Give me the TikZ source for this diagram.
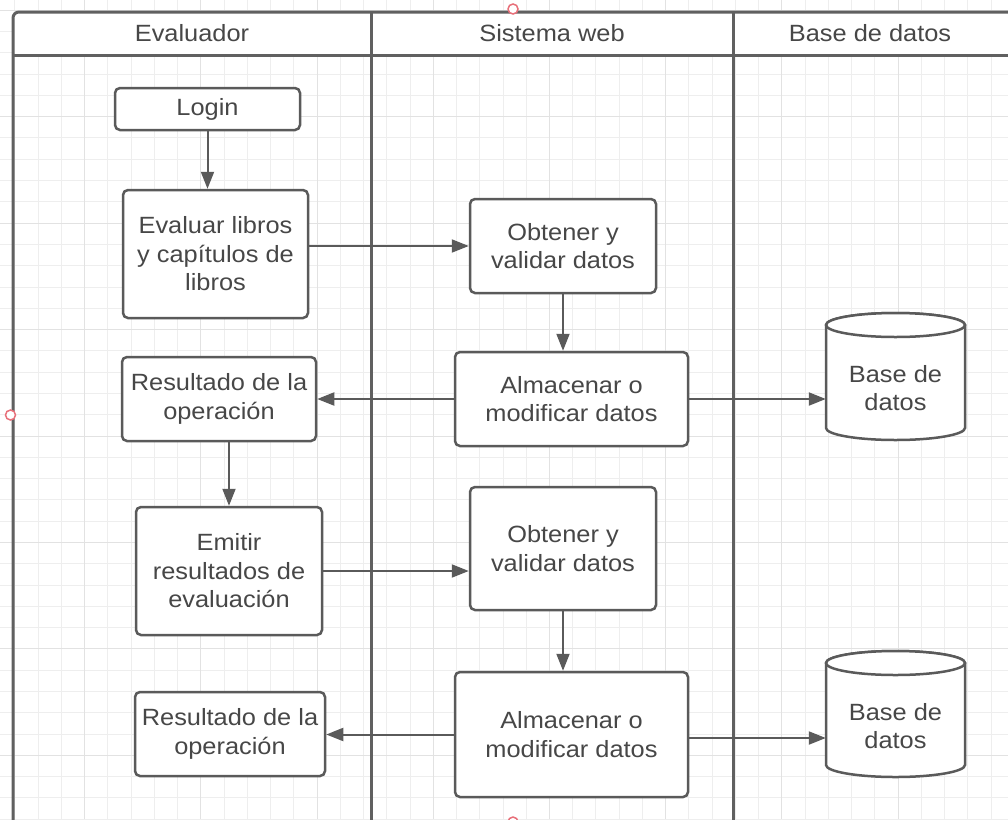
\documentclass[tikz,border=0pt]{standalone}
\usepackage{fontspec}
\setmainfont{Liberation Sans}[FakeStretch=1.08]
\usetikzlibrary{arrows.meta}
\definecolor{ln}{HTML}{5A5A5A}
\definecolor{pl}{HTML}{606060}
\definecolor{tx}{HTML}{474747}
\definecolor{gmin}{HTML}{EEEEEE}
\definecolor{gmaj}{HTML}{E2E2E2}
\definecolor{hnd}{HTML}{E8707A}
\begin{document}
\begin{tikzpicture}[x=1pt,y=-1pt,
  box/.style={draw=ln, line width=2.5pt, rounded corners=5pt, fill=white, text=tx,
    align=center, font=\fontsize{23.5}{28.5}\selectfont, inner sep=0pt},
  dbtext/.style={text=tx, align=center, font=\fontsize{23.5}{28.5}\selectfont, inner sep=0pt},
  hdr/.style={text=tx, font=\fontsize{23.5}{28.5}\selectfont, inner sep=0pt},
  conn/.style={draw=ln, line width=2pt, -{Triangle[length=17pt,width=13pt]}},
  pool/.style={draw=pl, line width=3pt},
  cyl/.style={draw=ln, line width=2.5pt, fill=white},
  handle/.style={draw=hnd, line width=1.5pt, fill=white}]
\useasboundingbox (0,0) rectangle (1008,819);
% background grid
\foreach \i in {0,...,45} {
  \draw[gmin, line width=1pt] ({-8.26+23.24*\i},0) -- ({-8.26+23.24*\i},819);
}
\foreach \i in {0,...,40} {
  \draw[gmin, line width=1pt] (0,{-11.04+21.29*\i}) -- (1008,{-11.04+21.29*\i});
}
\foreach \i in {4,9,...,44} {
  \draw[gmaj, line width=1pt] ({-8.26+23.24*\i},0) -- ({-8.26+23.24*\i},819);
}
\foreach \i in {1,6,...,40} {
  \draw[gmaj, line width=1pt] (0,{-11.04+21.29*\i}) -- (1008,{-11.04+21.29*\i});
}
% pool
\fill[white, rounded corners=6pt] (13,55) -- (13,12) -- (1013,12) -- (1013,55) -- cycle;
\draw[pool, rounded corners=6pt] (13,822) -- (13,12) -- (1013,12);
\draw[pool] (13,55) -- (1013,55);
\draw[pool] (371,12) -- (371,822);
\draw[pool] (733,12) -- (733,822);
\node[hdr] (h1) at (192,33) {Evaluador};
\node[hdr] (h2) at (552,33) {Sistema web};
\node[hdr] (h3) at (870,33) {Base de datos};
% cylinders
\draw[cyl] (826,325) -- (826,428) arc[start angle=180, end angle=0, x radius=69.5, y radius=12]
  -- (965,325) arc[start angle=0, end angle=-180, x radius=69.5, y radius=12] -- cycle;
\draw[cyl] (895.5,325) ellipse[x radius=69.5, y radius=12];
\draw[cyl] (826,663) -- (826,765) arc[start angle=180, end angle=0, x radius=69.5, y radius=12]
  -- (965,663) arc[start angle=0, end angle=-180, x radius=69.5, y radius=12] -- cycle;
\draw[cyl] (895.5,663) ellipse[x radius=69.5, y radius=12];
\node[dbtext, minimum width=139pt, minimum height=104pt] (db1) at (895.5,388) {Base de\\datos};
\node[dbtext, minimum width=139pt, minimum height=102pt] (db2) at (895.5,726) {Base de\\datos};
% boxes
\node[box, minimum width=185pt, minimum height=42pt] (login) at (207.5,109) {Login};
\node[box, minimum width=185pt, minimum height=128pt] (eval) at (215.5,254) {Evaluar libros\\y capítulos de\\libros};
\node[box, minimum width=186pt, minimum height=94pt] (obt1) at (563,246) {Obtener y\\validar datos};
\node[box, minimum width=233pt, minimum height=94pt] (alm1) at (571.5,399) {Almacenar o\\modificar datos};
\node[box, minimum width=194pt, minimum height=84pt] (res1) at (219,399) {Resultado de la\\operación};
\node[box, minimum width=186pt, minimum height=128pt] (emit) at (229,571) {Emitir\\resultados de\\evaluación};
\node[box, minimum width=186pt, minimum height=123pt] (obt2) at (563,548.5) {Obtener y\\validar datos};
\node[box, minimum width=233pt, minimum height=125pt] (alm2) at (571.5,734.5) {Almacenar o\\modificar datos};
\node[box, minimum width=190pt, minimum height=84pt] (res2) at (230,734) {Resultado de la\\operación};
% connectors
\draw[conn] (login.south) -- (login.south |- eval.north);
\draw[conn] (obt1.west -| eval.east) -- (obt1.west);
\draw[conn] (obt1.south) -- (obt1.south |- alm1.north);
\draw[conn] (alm1.west) -- (alm1.west -| res1.east);
\draw[conn] (alm1.east) -- (alm1.east -| db1.west);
\draw[conn] (emit.north |- res1.south) -- (emit.north);
\draw[conn] (emit.east) -- (emit.east -| obt2.west);
\draw[conn] (obt2.south) -- (obt2.south |- alm2.north);
\draw[conn] (alm2.west) -- (alm2.west -| res2.east);
\draw[conn] ([yshift=-3.5pt]alm2.east) -- ([yshift=-3.5pt]alm2.east -| db2.west);
% selection handles
\draw[handle] (513,9) circle[radius=5pt];
\draw[handle] (10.5,415) circle[radius=5pt];
\draw[handle] (1015,415) circle[radius=5pt];
\draw[handle] (513,822) circle[radius=5pt];
\end{tikzpicture}
\end{document}
